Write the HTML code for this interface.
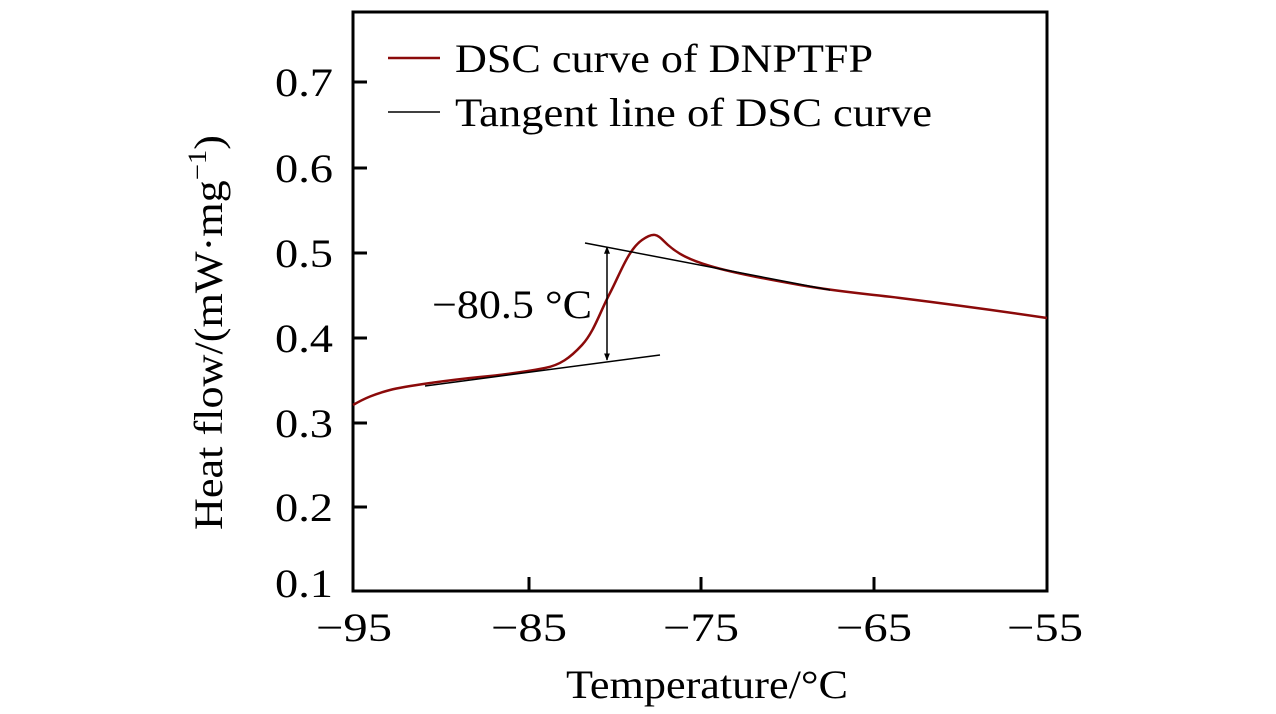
<!DOCTYPE html>
<html><head><meta charset="utf-8"><style>
body{margin:0;background:#fff;width:1276px;height:709px;overflow:hidden}
svg text{font-family:"Liberation Serif",serif;fill:#000}
</style></head><body>
<svg width="1276" height="709" viewBox="0 0 1276 709">
<defs><marker id="a" viewBox="0 0 10 10" refX="9" refY="5" markerWidth="5" markerHeight="7" orient="auto-start-reverse"><path d="M0,1 L10,5 L0,9 z" fill="#000"/></marker></defs>
<rect x="353" y="12" width="694" height="579" fill="none" stroke="#000" stroke-width="3"/>
<g stroke="#000" stroke-width="3">
<line x1="354" y1="507" x2="367" y2="507"/><line x1="354" y1="423" x2="367" y2="423"/><line x1="354" y1="338" x2="367" y2="338"/><line x1="354" y1="253" x2="367" y2="253"/><line x1="354" y1="168" x2="367" y2="168"/><line x1="354" y1="82" x2="367" y2="82"/>
<line x1="529" y1="590" x2="529" y2="577"/><line x1="701" y1="590" x2="701" y2="577"/><line x1="874" y1="590" x2="874" y2="577"/>
</g>
<g font-size="40" text-anchor="end">
<text x="333" y="597" textLength="58" lengthAdjust="spacingAndGlyphs">0.1</text>
<text x="333" y="521" textLength="58" lengthAdjust="spacingAndGlyphs">0.2</text>
<text x="333" y="437" textLength="58" lengthAdjust="spacingAndGlyphs">0.3</text>
<text x="333" y="352" textLength="58" lengthAdjust="spacingAndGlyphs">0.4</text>
<text x="333" y="267" textLength="58" lengthAdjust="spacingAndGlyphs">0.5</text>
<text x="333" y="182" textLength="58" lengthAdjust="spacingAndGlyphs">0.6</text>
<text x="333" y="96" textLength="58" lengthAdjust="spacingAndGlyphs">0.7</text>
</g>
<g font-size="40">
<text x="316" y="641" textLength="76" lengthAdjust="spacingAndGlyphs">−95</text>
<text x="491" y="641" textLength="76" lengthAdjust="spacingAndGlyphs">−85</text>
<text x="663" y="641" textLength="76" lengthAdjust="spacingAndGlyphs">−75</text>
<text x="836" y="641" textLength="76" lengthAdjust="spacingAndGlyphs">−65</text>
<text x="1007" y="641" textLength="76" lengthAdjust="spacingAndGlyphs">−55</text>
<text x="566" y="698" textLength="282" lengthAdjust="spacingAndGlyphs">Temperature/°C</text>
</g>
<text font-size="40" textLength="395" lengthAdjust="spacingAndGlyphs" transform="translate(222,530) rotate(-90)">Heat flow/(mW·mg<tspan font-size="26" dy="-16">−1</tspan><tspan dy="16">)</tspan></text>
<path d="M353,405 C365,398 375,394 390,390 S450,380 480,377 S530,371 545,368 S570,358 582,345 S600,312 610,293 S628,250 642,240 S658,236 668,245 S690,260 710,266 S760,278 800,285 S860,293 900,298 S1000,311 1047,318" fill="none" stroke="#8b0a0a" stroke-width="2.5"/>
<line x1="425" y1="386" x2="660" y2="355" stroke="#000" stroke-width="1.5"/>
<line x1="585" y1="243" x2="830" y2="290" stroke="#000" stroke-width="1.5"/>
<line x1="607" y1="247" x2="607" y2="360" stroke="#000" stroke-width="1.5" marker-start="url(#a)" marker-end="url(#a)"/>
<text x="432" y="318" font-size="40" textLength="160" lengthAdjust="spacingAndGlyphs">−80.5 °C</text>
<line x1="388" y1="58" x2="440" y2="58" stroke="#8b0a0a" stroke-width="2.5"/>
<text x="455" y="72" font-size="40" textLength="418" lengthAdjust="spacingAndGlyphs">DSC curve of DNPTFP</text>
<line x1="388" y1="112" x2="440" y2="112" stroke="#000" stroke-width="1.5"/>
<text x="455" y="126" font-size="40" textLength="477" lengthAdjust="spacingAndGlyphs">Tangent line of DSC curve</text>
</svg>
</body></html>
